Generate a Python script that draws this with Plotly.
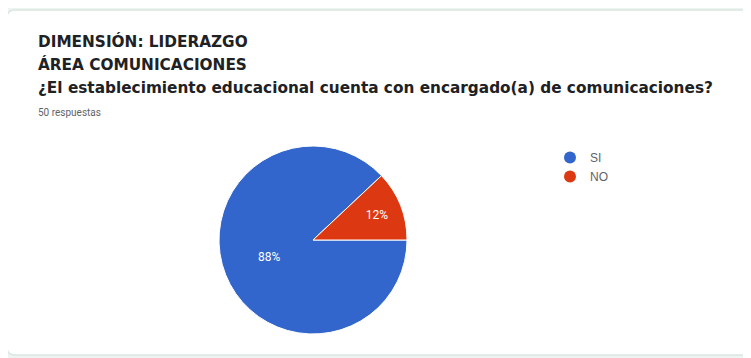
import plotly.graph_objects as go

# survey answers
labels = ['SI', 'NO']
values = [44, 6]
colors = ['#3366cc', '#dc3912']

W, H = 751, 358
# the page body adds an 8px margin, so pixel positions are shifted back by it
OFF = 8


def px(x):
    return (x - OFF) / W


def py(y):
    return 1 - (y - OFF) / H


fig = go.Figure()

# pie starting at 3 o'clock, going clockwise, so NO ends up just above 3 o'clock
fig.add_trace(go.Pie(
    labels=labels,
    values=values,
    marker=dict(colors=colors, line=dict(color='white', width=1)),
    sort=False,
    direction='clockwise',
    rotation=90,
    textinfo='percent',
    texttemplate='%{percent:.0%}',
    textposition='inside',
    insidetextfont=dict(color='white', size=12, family='Roboto'),
    showlegend=False,
    hoverinfo='label+percent',
    domain=dict(x=[px(219), px(407)], y=[py(334), py(146)]),
))

# dummy traces so the legend gets round markers like google forms
for lab, col in zip(labels, colors):
    fig.add_trace(go.Scatter(
        x=[None], y=[None], mode='markers', name=lab,
        marker=dict(color=col, size=12, symbol='circle')))

# white card with rounded corner
r = 8
x0, y0, x1, y1 = px(7), py(10), 1.02, py(355)
card = (f"M {x0 + r / W},{y0} L {x1},{y0} L {x1},{y1} L {x0 + r / W},{y1} "
        f"Q {x0},{y1} {x0},{y1 + r / H} L {x0},{y0 - r / H} Q {x0},{y0} {x0 + r / W},{y0} Z")

fig.add_shape(type='path', path=card, xref='paper', yref='paper',
              fillcolor='white', line=dict(color='#dbe6e1', width=1.5), layer='below')

titles = [
    ('DIMENSIÓN: LIDERAZGO', 41, 15.3, '#202124', True),
    ('ÁREA COMUNICACIONES', 64, 15.3, '#202124', True),
    ('¿El establecimiento educacional cuenta con encargado(a) de comunicaciones?', 88, 15.3, '#202124', True),
    ('50 respuestas', 113, 10, '#5f6368', False),
]
annotations = []
for txt, ypx, size, col, bold in titles:
    annotations.append(dict(
        text=f'<b>{txt}</b>' if bold else txt,
        x=px(36), y=py(ypx), xref='paper', yref='paper',
        xanchor='left', yanchor='middle', showarrow=False,
        font=dict(size=size, color=col,
                  family='DejaVu Sans' if bold else 'Roboto')))

fig.update_layout(
    width=W, height=H,
    margin=dict(l=0, r=0, t=0, b=0),
    paper_bgcolor='#eef4f2',
    plot_bgcolor='rgba(0,0,0,0)',
    xaxis=dict(visible=False),
    yaxis=dict(visible=False),
    annotations=annotations,
    legend=dict(x=px(550), y=py(143), xanchor='left', yanchor='top',
                bgcolor='rgba(0,0,0,0)', tracegroupgap=0, itemwidth=30,
                font=dict(size=12, color='#5f6368', family='Arial')),
    font=dict(family='Roboto'),
)

fig.write_html('out.html')
